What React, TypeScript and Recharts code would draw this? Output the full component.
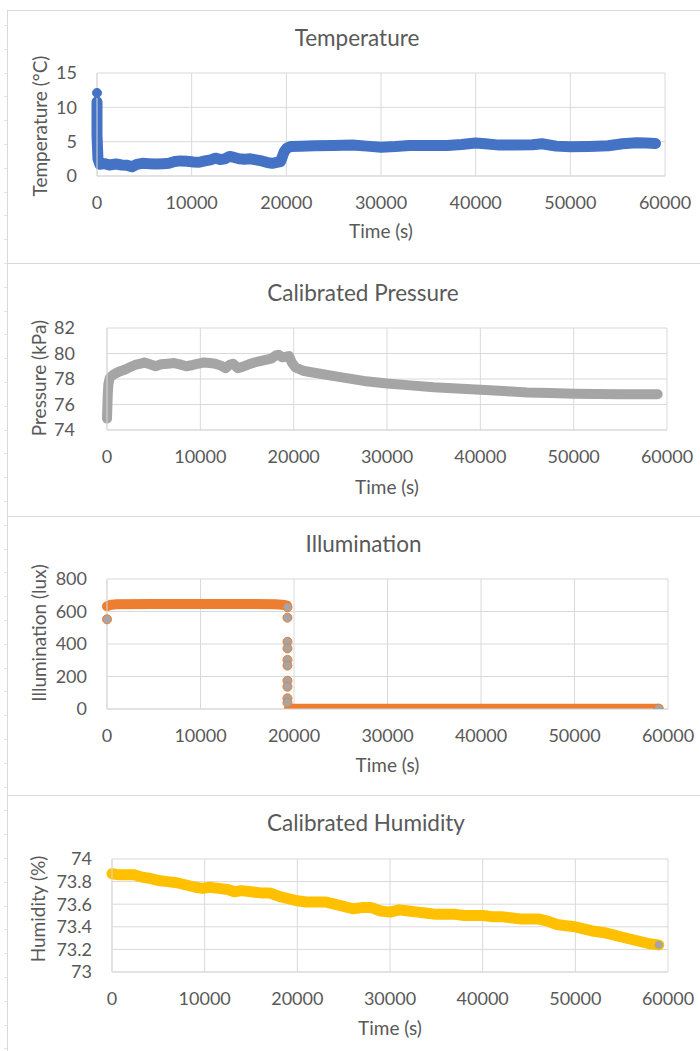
import React from 'react';
import { ComposedChart, Line, Scatter, XAxis, YAxis, CartesianGrid } from 'recharts';

// ---------- shared ----------
const timeTicks = [0, 10000, 20000, 30000, 40000, 50000, 60000];

// ---------- Temperature ----------
const tempTime = [0, 0, 100, 300, 800, 1300, 2000, 2600, 3200, 3700, 4200, 4800, 5500, 6200, 7000, 7600, 8200, 8800, 9500, 10200, 10800, 11400, 12000, 12500, 13000, 13500, 14000, 14500, 15000, 15600, 16200, 16800, 17400, 18000, 18500, 19000, 19400, 19600, 19800, 20100, 20500, 21500, 23000, 25000, 27000, 28500, 30000, 31500, 33000, 35000, 37000, 38500, 40000, 41000, 42500, 44000, 46000, 47000, 48500, 50000, 52000, 54000, 55500, 57000, 58000, 59000];
const tempValue = [10.8, 6.0, 2.5, 1.7, 1.8, 1.6, 1.75, 1.6, 1.55, 1.35, 1.7, 1.85, 1.8, 1.75, 1.8, 1.85, 2.1, 2.2, 2.15, 2.05, 2.0, 2.2, 2.35, 2.6, 2.4, 2.5, 2.85, 2.7, 2.5, 2.45, 2.5, 2.35, 2.2, 1.95, 1.85, 2.0, 2.1, 2.9, 3.6, 4.1, 4.3, 4.35, 4.4, 4.45, 4.5, 4.35, 4.2, 4.3, 4.45, 4.45, 4.45, 4.6, 4.8, 4.7, 4.5, 4.5, 4.55, 4.7, 4.35, 4.25, 4.3, 4.4, 4.7, 4.85, 4.8, 4.75];
const tempPeakTime = [0];
const tempPeakValue = [12.1];
const tempTicks = [0, 5, 10, 15];

// ---------- Pressure ----------
const pressTime = [0, 30, 80, 150, 300, 700, 1200, 1800, 2400, 3000, 3600, 4000, 4600, 5200, 5800, 6500, 7200, 7800, 8500, 9200, 9800, 10400, 11000, 11600, 12200, 12700, 13100, 13500, 14000, 14500, 15200, 15800, 16400, 17000, 17600, 18100, 18400, 18800, 19200, 19500, 19800, 20200, 21000, 22500, 25000, 27500, 30000, 32500, 35000, 37500, 40000, 42500, 45000, 47500, 50000, 52500, 55000, 57500, 59000];
const pressValue = [74.9, 75.6, 76.8, 77.6, 78.1, 78.35, 78.55, 78.7, 78.9, 79.1, 79.2, 79.3, 79.15, 79.0, 79.15, 79.2, 79.25, 79.15, 79.0, 79.1, 79.2, 79.3, 79.25, 79.2, 79.05, 78.85, 79.1, 79.2, 78.85, 78.95, 79.15, 79.3, 79.4, 79.5, 79.6, 79.85, 79.9, 79.7, 79.75, 79.8, 79.3, 78.9, 78.65, 78.45, 78.15, 77.85, 77.65, 77.5, 77.35, 77.25, 77.15, 77.05, 76.95, 76.9, 76.85, 76.82, 76.8, 76.8, 76.8];
const pressTicks = [74, 76, 78, 80, 82];

// ---------- Illumination ----------
const illumDayTime = [0, 300, 1000, 5000, 10000, 15000, 18000, 19000, 19250];
const illumDayValue = [632, 640, 644, 646, 646, 646, 645, 640, 636];
const illumNightTime = [19450, 25000, 30000, 40000, 50000, 59000];
const illumNightValue = [1, 1, 1, 1, 1, 1];
const illumMarkTime = [0, 19300, 19300, 19300, 19300, 19300, 19300, 19300, 19300, 19300, 19300, 59000];
const illumMarkValue = [552, 626, 562, 414, 373, 302, 267, 174, 137, 66, 39, 2];
const illumTicks = [0, 200, 400, 600, 800];

// ---------- Humidity ----------
const humTime = [0, 800, 1600, 2400, 3200, 4000, 5000, 6000, 7000, 8000, 9000, 9800, 10500, 11500, 12500, 13200, 14000, 15000, 16000, 17000, 18000, 19000, 20000, 21000, 22000, 23000, 24000, 25000, 26000, 27000, 28000, 29000, 30000, 31000, 32000, 33000, 34000, 35000, 36000, 37000, 38000, 39000, 40000, 41000, 42000, 43000, 44000, 45000, 46000, 47000, 48000, 49000, 50000, 51000, 52000, 53000, 54000, 55000, 56000, 57000, 58000, 59000];
const humValue = [73.87, 73.86, 73.86, 73.86, 73.84, 73.83, 73.81, 73.8, 73.79, 73.77, 73.75, 73.74, 73.75, 73.74, 73.73, 73.71, 73.72, 73.71, 73.7, 73.7, 73.67, 73.65, 73.63, 73.62, 73.62, 73.62, 73.6, 73.58, 73.56, 73.57, 73.57, 73.54, 73.53, 73.55, 73.54, 73.53, 73.52, 73.51, 73.51, 73.51, 73.5, 73.5, 73.5, 73.49, 73.49, 73.48, 73.47, 73.47, 73.47, 73.45, 73.42, 73.41, 73.4, 73.38, 73.36, 73.35, 73.33, 73.31, 73.29, 73.27, 73.25, 73.24];
const humMarkTime = [59000];
const humMarkValue = [73.24];
const humTicks = [73, 73.2, 73.4, 73.6, 73.8, 74];

// ---------- helpers ----------
const toPoints = (ts: number[], vs: number[]) => ts.map((t, i) => ({ t, v: vs[i] }));

const FONT = 'Lato, "Open Sans", sans-serif';
const TEXT = '#595959';
const GRID = '#d9d9d9';

const BLUE = '#4472C4';
const GRAY = '#A5A5A5';
const ORANGE = '#ED7D31';
const GOLD = '#FFC000';

type PanelProps = {
  top: number;
  bottom: number;
  plotLeft: number;
  plotRight: number;
  plotTop: number;
  plotBottom: number;
  title: string;
  titleY: number;
  yTitle: string;
  yTitleX: number;
  yTitleY: number;
  xTitleY: number;
  yDomain: [number, number];
  yTicks: number[];
  yTickMargin: number;
  children: React.ReactNode;
};

const Y_AXIS_W = 60;
const X_AXIS_H = 30;

function Panel(p: PanelProps) {
  const h = p.bottom - p.top;
  const margin = {
    top: p.plotTop - p.top,
    right: 700 - p.plotRight,
    left: p.plotLeft - Y_AXIS_W,
    bottom: p.bottom - p.plotBottom - X_AXIS_H,
  };
  const tickStyle = { fill: TEXT, fontSize: 18, fontFamily: FONT };
  return (
    <>
      <div style={{ position: 'absolute', left: 0, top: p.top, width: 700, height: h }}>
        <ComposedChart width={700} height={h} margin={margin}>
          <CartesianGrid stroke={GRID} strokeWidth={1} />
          <XAxis
            type="number"
            dataKey="t"
            domain={[0, 60000]}
            ticks={timeTicks}
            interval={0}
            height={X_AXIS_H}
            tickLine={false}
            tickSize={0}
            tickMargin={20}
            axisLine={{ stroke: GRID }}
            tick={tickStyle}
          />
          <YAxis
            type="number"
            dataKey="v"
            domain={p.yDomain}
            ticks={p.yTicks}
            interval={0}
            width={Y_AXIS_W}
            tickLine={false}
            tickSize={0}
            tickMargin={p.yTickMargin}
            axisLine={{ stroke: GRID }}
            tick={tickStyle}
            allowDataOverflow
          />
          {p.children}
        </ComposedChart>
      </div>
      <div
        style={{
          position: 'absolute',
          left: (p.plotLeft + p.plotRight) / 2 - 24,
          top: p.titleY,
          transform: 'translate(-50%, -50%)',
          whiteSpace: 'nowrap',
          fontFamily: FONT,
          fontSize: 22.5,
          color: TEXT,
          lineHeight: 1.2,
        }}
      >
        {p.title}
      </div>
      <div
        style={{
          position: 'absolute',
          left: (p.plotLeft + p.plotRight) / 2,
          top: p.xTitleY,
          transform: 'translate(-50%, -50%)',
          whiteSpace: 'nowrap',
          fontFamily: FONT,
          fontSize: 19,
          color: TEXT,
          lineHeight: 1.2,
        }}
      >
        Time (s)
      </div>
      <div
        style={{
          position: 'absolute',
          left: p.yTitleX,
          top: p.yTitleY,
          transform: 'translate(-50%, -50%) rotate(-90deg)',
          whiteSpace: 'nowrap',
          fontFamily: FONT,
          fontSize: 19,
          color: TEXT,
          lineHeight: 1.2,
        }}
      >
        {p.yTitle}
      </div>
    </>
  );
}

const bandProps = {
  dataKey: 'v',
  dot: false,
  activeDot: false,
  isAnimationActive: false,
  strokeLinecap: 'round' as const,
  strokeLinejoin: 'round' as const,
  type: 'linear' as const,
};

const separators = [10, 263, 516, 795];
const rowStubs: number[] = [];
for (let y = 25; y < 1051; y += 23.8) rowStubs.push(Math.round(y));

export default function App() {
  return (
    <div style={{ position: 'absolute', left: 0, top: 0, width: 700, height: 1051, background: '#fff', overflow: 'hidden' }}>
      {/* sheet frame */}
      <div style={{ position: 'absolute', left: 7, top: 10, width: 1, height: 1041, background: GRID }} />
      {separators.map((y) => (
        <div key={y} style={{ position: 'absolute', left: 7, top: y, width: 693, height: 1, background: GRID }} />
      ))}
      {rowStubs.map((y) => (
        <div key={'s' + y} style={{ position: 'absolute', left: 4, top: y, width: 3, height: 1, background: '#e3e3e3' }} />
      ))}

      <Panel
        top={10}
        bottom={263}
        plotLeft={97}
        plotRight={665}
        plotTop={73}
        plotBottom={176}
        title="Temperature"
        titleY={37}
        yTitle="Temperature (°C)"
        yTitleX={39.5}
        yTitleY={126}
        xTitleY={231}
        yDomain={[0, 15]}
        yTicks={tempTicks}
        yTickMargin={20}
      >
        <Line {...bandProps} data={toPoints(tempTime, tempValue)} stroke={BLUE} strokeWidth={11} />
        <Scatter data={toPoints(tempPeakTime, tempPeakValue)} dataKey="v" fill={BLUE} stroke={BLUE} isAnimationActive={false} />
      </Panel>

      <Panel
        top={263}
        bottom={516}
        plotLeft={107}
        plotRight={667}
        plotTop={328}
        plotBottom={430}
        title="Calibrated Pressure"
        titleY={292}
        yTitle="Pressure (kPa)"
        yTitleX={38.5}
        yTitleY={378}
        xTitleY={487}
        yDomain={[74, 82]}
        yTicks={pressTicks}
        yTickMargin={32}
      >
        <Line {...bandProps} data={toPoints(pressTime, pressValue)} stroke={GRAY} strokeWidth={10} />
      </Panel>

      <Panel
        top={516}
        bottom={795}
        plotLeft={107}
        plotRight={668}
        plotTop={579}
        plotBottom={709}
        title="Illumination"
        titleY={543}
        yTitle="Illumination (lux)"
        yTitleX={39}
        yTitleY={633}
        xTitleY={765}
        yDomain={[0, 800]}
        yTicks={illumTicks}
        yTickMargin={20}
      >
        <Line {...bandProps} data={toPoints(illumDayTime, illumDayValue)} stroke={ORANGE} strokeWidth={10} />
        <Line {...bandProps} data={toPoints(illumNightTime, illumNightValue)} stroke={ORANGE} strokeWidth={10} />
        <Scatter data={toPoints(illumMarkTime, illumMarkValue)} dataKey="v" fill={GRAY} stroke={ORANGE} strokeWidth={1} isAnimationActive={false} />
      </Panel>

      <Panel
        top={795}
        bottom={1051}
        plotLeft={112}
        plotRight={668}
        plotTop={859}
        plotBottom={972}
        title="Calibrated Humidity"
        titleY={822}
        yTitle="Humidity (%)"
        yTitleX={37.5}
        yTitleY={909}
        xTitleY={1028}
        yDomain={[73, 74]}
        yTicks={humTicks}
        yTickMargin={20}
      >
        <Line {...bandProps} data={toPoints(humTime, humValue)} stroke={GOLD} strokeWidth={11} />
        <Scatter data={toPoints(humMarkTime, humMarkValue)} dataKey="v" fill={GRAY} stroke={GOLD} strokeWidth={1} isAnimationActive={false} />
      </Panel>
    </div>
  );
}
